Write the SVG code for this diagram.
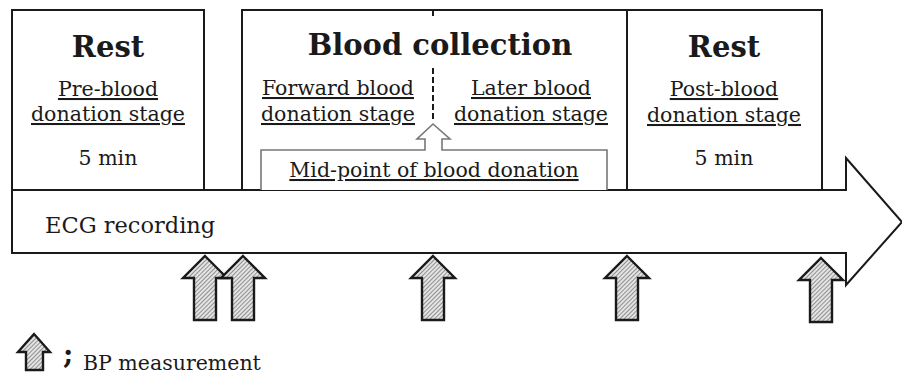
<svg xmlns="http://www.w3.org/2000/svg" width="902" height="377" viewBox="0 0 902 377">
<defs>
<pattern id="hatch" width="3" height="3" patternUnits="userSpaceOnUse" patternTransform="rotate(45)">
<rect width="3" height="3" fill="#e4e4e4"/>
<line x1="0" y1="0" x2="0" y2="3" stroke="#4a4a4a" stroke-width="1.1"/>
</pattern>
<polygon id="bp" points="0,0 22,22 11,22 11,64 -11,64 -11,22 -22,22" fill="url(#hatch)" stroke="#1a1a1a" stroke-width="2.4" stroke-linejoin="miter"/>
</defs>
<style>
.box{fill:#fff;stroke:#1a1a1a;stroke-width:2}
.t{font-family:"DejaVu Serif","Liberation Serif",serif;font-size:20.5px;fill:#1a1a1a;text-anchor:middle}
.u{text-decoration:underline}
.h{font-family:"DejaVu Serif","Liberation Serif",serif;font-weight:bold;font-size:29px;fill:#1a1a1a;text-anchor:middle}
</style>
<rect width="902" height="377" fill="#fff"/>
<g id="ecg">
<polygon points="12,190 846,190 846,158 902,222 846,285 846,253 12,253" class="box"/>
<text x="45" y="233" class="t" style="text-anchor:start;font-size:22.5px">ECG recording</text>
</g>
<g id="rest-pre">
<rect x="12" y="10" width="192" height="180" class="box"/>
<text x="108" y="57" class="h">Rest</text>
<text x="108" y="96" class="t u">Pre-blood</text>
<text x="108" y="121" class="t u">donation stage</text>
<text x="108" y="165" class="t">5 min</text>
</g>
<g id="collection">
<rect x="242" y="10" width="385" height="180" class="box"/>
<text x="440" y="55" class="h">Blood collection</text>
<path d="M433,10 V19 M433,68 V122" stroke="#1a1a1a" stroke-width="2" stroke-dasharray="6,3" fill="none"/>
<text x="338" y="95" class="t u">Forward blood</text>
<text x="338" y="121" class="t u">donation stage</text>
<text x="531" y="95" class="t u">Later blood</text>
<text x="531" y="121" class="t u">donation stage</text>
</g>
<g id="midpoint">
<path d="M261,190 V150 H425 V139 H417 L433,124 L450,139 H442 V150 H607 V190" fill="#fff" stroke="#777" stroke-width="1.6"/>
<text x="434" y="177" class="t u">Mid-point of blood donation</text>
</g>
<g id="rest-post">
<rect x="627" y="10" width="195" height="180" class="box"/>
<text x="724" y="57" class="h">Rest</text>
<text x="724" y="96" class="t u">Post-blood</text>
<text x="724" y="122" class="t u">donation stage</text>
<text x="724" y="165" class="t">5 min</text>
</g>
<g id="bp-arrows">
<use href="#bp" x="205" y="256"/>
<use href="#bp" x="243" y="256"/>
<use href="#bp" x="433" y="256"/>
<use href="#bp" x="627" y="256"/>
<use href="#bp" x="821" y="258"/>
</g>
<g id="legend">
<polygon points="34,334 50,352 43,352 43,370 26,370 26,352 18,352" fill="url(#hatch)" stroke="#1a1a1a" stroke-width="2.4"/>
<text x="63" y="364" class="t" style="text-anchor:start;font-size:28px;font-weight:bold">;</text>
<text x="83" y="370" class="t" style="text-anchor:start">BP measurement</text>
</g>
</svg>
